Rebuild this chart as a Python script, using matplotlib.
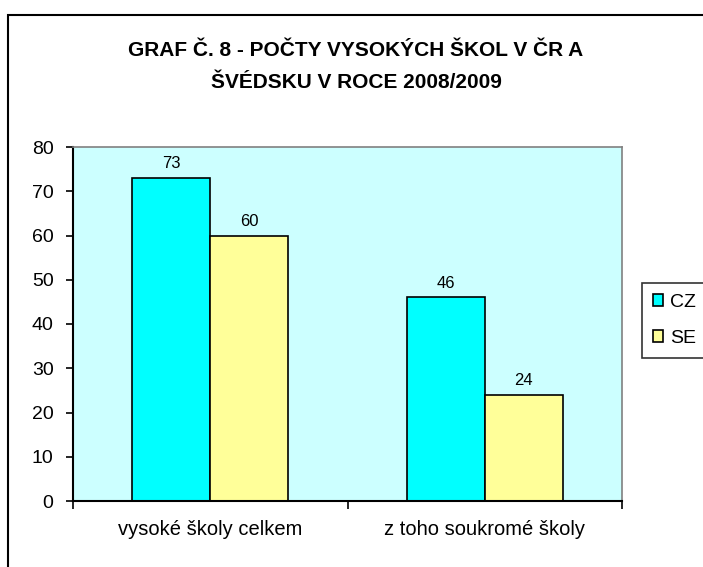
import matplotlib
matplotlib.use("Agg")
import matplotlib.pyplot as plt
from matplotlib.patches import Rectangle

categories = ["vysoké školy celkem", "z toho soukromé školy"]
series_names = ["CZ", "SE"]
cz_values = [73, 46]
se_values = [60, 24]
yticks = [0, 10, 20, 30, 40, 50, 60, 70, 80]
title_lines = ["GRAF Č. 8 - POČTY VYSOKÝCH ŠKOL V ČR A", "ŠVÉDSKU V ROCE 2008/2009"]

plt.rcParams['font.family'] = ['Liberation Sans', 'DejaVu Sans']

fig = plt.figure(figsize=(7.03, 5.67), dpi=100)
fig.patch.set_facecolor('white')

# outer chart border (cropped at right/bottom)
fig.patches.append(Rectangle((8/703, -0.05), 1.2, 1 - 15/567 + 0.05,
                             transform=fig.transFigure, fill=False,
                             edgecolor='black', linewidth=1.5, clip_on=False))

ax = fig.add_axes([73/703, 1 - 501/567, (622 - 73)/703, (501 - 147)/567])
ax.set_facecolor('#CCFFFF')

w = 0.285
x = [0, 1]
b1 = ax.bar([i - w/2 for i in x], cz_values, width=w, color='#00FFFF',
            edgecolor='black', linewidth=1.2, label=series_names[0])
b2 = ax.bar([i + w/2 for i in x], se_values, width=w, color='#FFFF99',
            edgecolor='black', linewidth=1.2, label=series_names[1])

for bars in (b1, b2):
    for r in bars:
        ax.annotate(f"{int(r.get_height())}",
                    (r.get_x() + r.get_width()/2, r.get_height()),
                    xytext=(0, 5), textcoords='offset points',
                    ha='center', va='bottom', fontsize=12)

ax.set_xlim(-0.5, 1.5)
ax.set_ylim(0, 80)
ax.set_yticks(yticks)
ax.set_yticklabels([str(t) for t in yticks], fontsize=14)
ax.tick_params(axis='y', direction='out', length=5, width=1.2, pad=9)

ax.set_xticks([-0.5, 0.5, 1.5])
ax.set_xticklabels([])
ax.set_xticks(x, minor=True)
ax.set_xticklabels(categories, minor=True, fontsize=14.5)
ax.tick_params(axis='x', which='major', direction='out', length=6, width=1.2)
ax.tick_params(axis='x', which='minor', length=0, pad=14)

for s in ('top', 'right'):
    ax.spines[s].set_color('#808080')
    ax.spines[s].set_linewidth(1.2)
for s in ('left', 'bottom'):
    ax.spines[s].set_color('black')
    ax.spines[s].set_linewidth(1.5)

fig.text(356/703, 1 - 50/567, title_lines[0], ha='center', va='center',
         fontsize=15, fontweight='bold')
fig.text(356/703, 1 - 82/567, title_lines[1], ha='center', va='center',
         fontsize=15, fontweight='bold')

leg = fig.legend(handles=[b1, b2], labels=series_names,
                 loc='upper left', bbox_to_anchor=(642/703, 1 - 283/567),
                 frameon=True, fontsize=14, handlelength=0.55, handleheight=0.55,
                 handletextpad=0.35, borderpad=0.55, labelspacing=1.0,
                 borderaxespad=0)
leg.get_frame().set_edgecolor('black')
leg.get_frame().set_linewidth(1.2)
leg.get_frame().set_boxstyle('square', pad=0)

fig.savefig("out.png", dpi=100)
